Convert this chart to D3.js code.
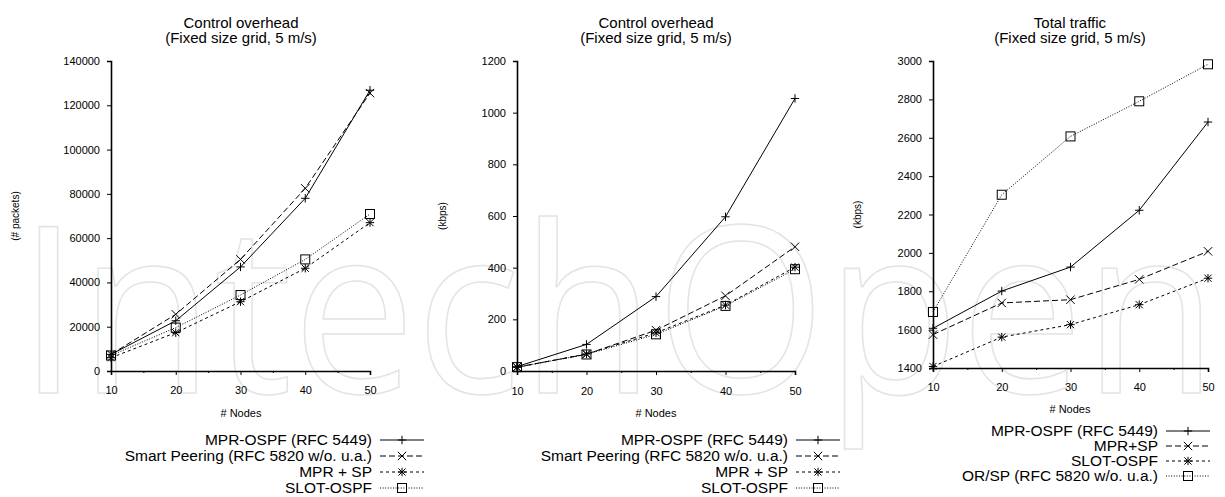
<!DOCTYPE html>
<html><head><meta charset="utf-8">
<script src="https://cdn.jsdelivr.net/npm/d3@7/dist/d3.min.js"></script>
<style>
html,body{margin:0;padding:0;background:#fff;}
text{font-family:"Liberation Sans",Arial,sans-serif;fill:#000;}
</style></head>
<body><svg id="c" width="1225" height="497"></svg>
<script>
// ---------- DATA ----------
const nodes = [10, 20, 30, 40, 50];

const titles = ["Control overhead", "Control overhead", "Total traffic"];
const subtitle = "(Fixed size grid, 5 m/s)";
const yLabels = ["(# packets)", "(kbps)", "(kbps)"];
const xLabel = "# Nodes";

const yTicks1 = [0, 20000, 40000, 60000, 80000, 100000, 120000, 140000];
const yTicks2 = [0, 200, 400, 600, 800, 1000, 1200];
const yTicks3 = [1400, 1600, 1800, 2000, 2200, 2400, 2600, 2800, 3000];

const legend1 = ["MPR-OSPF (RFC 5449)", "Smart Peering (RFC 5820 w/o. u.a.)", "MPR + SP", "SLOT-OSPF"];
const legend3 = ["MPR-OSPF (RFC 5449)", "MPR+SP", "SLOT-OSPF", "OR/SP (RFC 5820 w/o. u.a.)"];

// Panel 1: control overhead (# packets)
const p1_mprOspf   = [7500, 22700, 47000, 78000, 126800];
const p1_smartPeer = [7500, 25600, 50400, 82500, 125500];
const p1_mprSp     = [6000, 17300, 31300, 46400, 67000];
const p1_slotOspf  = [7000, 19600, 34300, 50400, 70900];

// Panel 2: control overhead (kbps)
const p2_mprOspf   = [17, 103, 288, 597, 1055];
const p2_smartPeer = [15, 65, 158, 291, 481];
const p2_mprSp     = [14, 66, 148, 255, 402];
const p2_slotOspf  = [15, 64, 142, 252, 394];

// Panel 3: total traffic (kbps)
const p3_mprOspf = [1607, 1801, 1926, 2222, 2682];
const p3_mprSp   = [1574, 1739, 1756, 1862, 2008];
const p3_slot    = [1408, 1561, 1626, 1730, 1868];
const p3_orSp    = [1692, 2303, 2607, 2790, 2983];

// ---------- STYLES ----------
const styles = [
  {dash: null, marker: "plus"},
  {dash: "6,3", marker: "cross"},
  {dash: "3,3", marker: "star"},
  {dash: "1,1.6", marker: "square"}
];

const svg = d3.select("#c");

// watermark
svg.append("text")
  .attr("x", 18).attr("y", 393)
  .attr("textLength", 1200).attr("lengthAdjust", "spacingAndGlyphs")
  .style("font-family", "'Open Sans','Liberation Sans',sans-serif")
  .style("font-size", "232px")
  .style("fill", "none")
  .style("stroke", "#e4e4e4")
  .style("stroke-width", 1.6)
  .text("IntechOpen");

function marker(g, type, x, y) {
  const s = 4.2;
  if (type === "plus") {
    g.append("path").attr("d", `M${x-s},${y}H${x+s}M${x},${y-s}V${y+s}`);
  } else if (type === "cross") {
    const t = 4.2;
    g.append("path").attr("d", `M${x-t},${y-t}L${x+t},${y+t}M${x-t},${y+t}L${x+t},${y-t}`);
  } else if (type === "star") {
    const t = 3.6;
    g.append("path").attr("d", `M${x-s},${y}H${x+s}M${x},${y-s}V${y+s}M${x-t},${y-t}L${x+t},${y+t}M${x-t},${y+t}L${x+t},${y-t}`);
  } else {
    const t = 4.5;
    g.append("rect").attr("x", x-t).attr("y", y-t).attr("width", 2*t).attr("height", 2*t).attr("fill", "none");
  }
}

const panels = [
  {x0: 111, x1: 370, yTop: 61, yBot: 371, ticks: yTicks1, series: [p1_mprOspf, p1_smartPeer, p1_mprSp, p1_slotOspf],
   legend: legend1, cx: 241, yLabX: 15, legRight: 372, legBase: 445, legStep: 16, tickBase: 394, xLabBase: 417},
  {x0: 517, x1: 795, yTop: 61, yBot: 371, ticks: yTicks2, series: [p2_mprOspf, p2_smartPeer, p2_mprSp, p2_slotOspf],
   legend: legend1, cx: 656, yLabX: 442, legRight: 788, legBase: 445, legStep: 16, tickBase: 395, xLabBase: 417},
  {x0: 933, x1: 1208, yTop: 61, yBot: 368, ticks: yTicks3, series: [p3_mprOspf, p3_mprSp, p3_slot, p3_orSp],
   legend: legend3, cx: 1070, yLabX: 857, legRight: 1158, legBase: 436, legStep: 15, tickBase: 391, xLabBase: 413}
];

panels.forEach((p, i) => {
  const g = svg.append("g");
  const x = d3.scaleLinear().domain([10, 50]).range([p.x0, p.x1]);
  const y = d3.scaleLinear().domain(d3.extent(p.ticks)).range([p.yBot, p.yTop]);

  // titles
  g.append("text").attr("x", p.cx).attr("y", 28).attr("text-anchor", "middle").style("font-size", "15px").text(titles[i]);
  g.append("text").attr("x", p.cx).attr("y", 43).attr("text-anchor", "middle").style("font-size", "15px").text(subtitle);

  // y axis
  const ya = g.append("g").attr("transform", `translate(${p.x0},0)`)
    .call(d3.axisLeft(y).tickValues(p.ticks).tickSize(4).tickPadding(7).tickFormat(d3.format("d")));
  ya.select(".domain").attr("stroke", "#000").attr("stroke-width", 1.6);
  ya.selectAll("text").style("font-size", "11px").style("font-family", "'Liberation Sans',Arial,sans-serif");

  // x axis
  const xa = g.append("g").attr("transform", `translate(0,${p.yBot})`)
    .call(d3.axisBottom(x).tickValues(nodes).tickSize(4).tickPadding(8).tickFormat(d3.format("d")));
  xa.select(".domain").attr("stroke", "#000").attr("stroke-width", 1.6);
  xa.selectAll("text").style("font-size", "11px").style("font-family", "'Liberation Sans',Arial,sans-serif")
    .attr("y", p.tickBase - p.yBot).attr("dy", null);
  // minor ticks
  g.append("g").attr("transform", `translate(0,${p.yBot})`)
    .call(d3.axisBottom(x).tickValues([15, 25, 35, 45]).tickSize(2).tickFormat(""))
    .select(".domain").remove();

  // axis labels
  g.append("text").attr("x", p.cx).attr("y", p.xLabBase).attr("text-anchor", "middle").style("font-size", "11px").text(xLabel);
  g.append("text").attr("transform", `translate(${p.yLabX + 4},${(p.yTop + p.yBot) / 2}) rotate(-90)`)
    .attr("text-anchor", "middle").style("font-size", "10px").text(yLabels[i]);

  // series
  const line = d3.line().x((d, k) => x(nodes[k])).y(d => y(d));
  p.series.forEach((s, k) => {
    const st = styles[k];
    const sg = g.append("g").attr("stroke", "#000").attr("stroke-width", 1).attr("fill", "none");
    sg.append("path").datum(s).attr("d", line).attr("stroke-dasharray", st.dash);
    s.forEach((v, j) => marker(sg, st.marker, x(nodes[j]), y(v)));

    // legend
    const ly = p.legBase + k * p.legStep;
    g.append("text").attr("x", p.legRight).attr("y", ly).attr("text-anchor", "end").style("font-size", "15.5px").text(p.legend[k]);
    const lg = g.append("g").attr("stroke", "#000").attr("stroke-width", 1).attr("fill", "none");
    const lx0 = p.legRight + 8, lx1 = p.legRight + 52, lyc = ly - 5;
    lg.append("line").attr("x1", lx0).attr("x2", lx1).attr("y1", lyc).attr("y2", lyc).attr("stroke-dasharray", st.dash);
    marker(lg, st.marker, (lx0 + lx1) / 2, lyc);
  });
});
</script>
</body></html>
